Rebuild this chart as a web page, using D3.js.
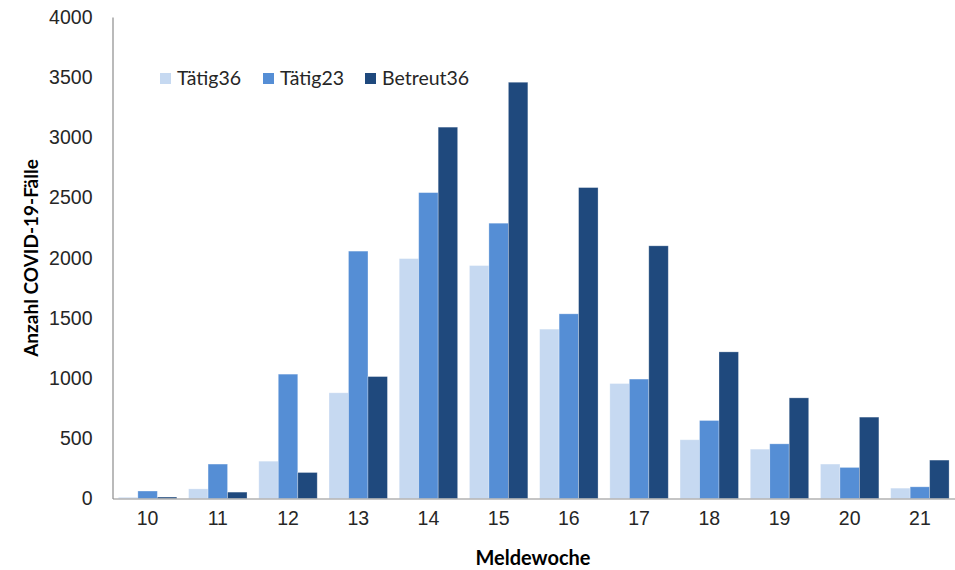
<!DOCTYPE html>
<html>
<head>
<meta charset="utf-8">
<script src="https://cdnjs.cloudflare.com/ajax/libs/d3/7.8.5/d3.min.js"></script>
<style>
  body { margin: 0; background: #fff; }
  svg { font-family: Lato, "Open Sans", sans-serif; }
</style>
</head>
<body>
<svg id="chart" width="955" height="570"></svg>
<script>
// Meldewoche categories and series
var weeks = ["10", "11", "12", "13", "14", "15", "16", "17", "18", "19", "20", "21"];
var taetig36 = [10, 80, 310, 878, 1993, 1935, 1407, 955, 488, 410, 286, 86];
var taetig23 = [62, 286, 1033, 2055, 2541, 2287, 1534, 992, 648, 454, 258, 97];
var betreut36 = [12, 53, 216, 1013, 3085, 3458, 2583, 2099, 1218, 836, 676, 319];
var seriesNames = ["Tätig36", "Tätig23", "Betreut36"];
var colors = ["#c6d9f1", "#558ed5", "#1f497d"];
var yTicks = [0, 500, 1000, 1500, 2000, 2500, 3000, 3500, 4000];

var series = [taetig36, taetig23, betreut36];

var svg = d3.select('#chart');
var plotLeft = 112.5, plotRight = 955, plotTop = 17, plotBottom = 498.5;

var x = d3.scaleBand()
    .domain(weeks)
    .range([plotLeft, plotRight])
    .paddingInner(0.168)
    .paddingOuter(0.084);

var xs = d3.scaleBand()
    .domain(d3.range(series.length))
    .range([0, x.bandwidth()]);

var y = d3.scaleLinear()
    .domain([0, 4000])
    .range([plotBottom, plotTop]);

// bars
var groups = svg.selectAll('g.week')
    .data(weeks)
    .enter()
    .append('g')
    .attr('class', 'week')
    .attr('transform', function(d){ return 'translate(' + x(d) + ',0)'; });

groups.selectAll('rect')
    .data(function(d, i){
        return series.map(function(s, k){ return { k: k, v: s[i] }; });
    })
    .enter()
    .append('rect')
    .attr('x', function(d){ return xs(d.k); })
    .attr('width', xs.bandwidth())
    .attr('y', function(d){ return y(d.v); })
    .attr('height', function(d){ return plotBottom - y(d.v); })
    .style('fill', function(d){ return colors[d.k]; })
    .style('stroke', 'rgba(255,255,255,0.35)')
    .style('stroke-width', 0.8);

// y axis
var yAxis = svg.append('g')
    .attr('transform', 'translate(' + plotLeft + ',0)')
    .call(d3.axisLeft(y).tickValues(yTicks).tickFormat(d3.format('d')).tickSize(0).tickPadding(20));
yAxis.select('.domain').style('stroke', '#8c8c8c').style('stroke-width', 1.2);
yAxis.selectAll('text')
    .style('font-size', '19.5px')
    .style('fill', '#262626');

// x axis
var xAxis = svg.append('g')
    .attr('transform', 'translate(0,' + plotBottom + ')')
    .call(d3.axisBottom(x).tickSize(0).tickPadding(13));
xAxis.select('.domain').style('stroke', '#8c8c8c').style('stroke-width', 1.2);
xAxis.selectAll('text')
    .style('font-size', '19.5px')
    .style('fill', '#262626');

// axis titles
svg.append('text')
    .attr('transform', 'translate(38,258) rotate(-90)')
    .attr('text-anchor', 'middle')
    .style('font-size', '19px')
    .style('font-weight', 'bold')
    .style('fill', '#000')
    .text('Anzahl COVID-19-Fälle');

svg.append('text')
    .attr('x', 533)
    .attr('y', 565)
    .attr('text-anchor', 'middle')
    .style('font-size', '20px')
    .style('font-weight', 'bold')
    .style('fill', '#000')
    .text('Meldewoche');

// legend
var legendX = [160, 263, 365];
var legend = svg.selectAll('g.legend')
    .data(seriesNames)
    .enter()
    .append('g')
    .attr('class', 'legend')
    .attr('transform', function(d, i){ return 'translate(' + legendX[i] + ',73)'; });

legend.append('rect')
    .attr('width', 11)
    .attr('height', 11)
    .style('fill', function(d, i){ return colors[i]; });

legend.append('text')
    .attr('x', 17)
    .attr('y', 12)
    .style('font-size', '19.5px')
    .style('fill', '#262626')
    .text(function(d){ return d; });
</script>
</body>
</html>
